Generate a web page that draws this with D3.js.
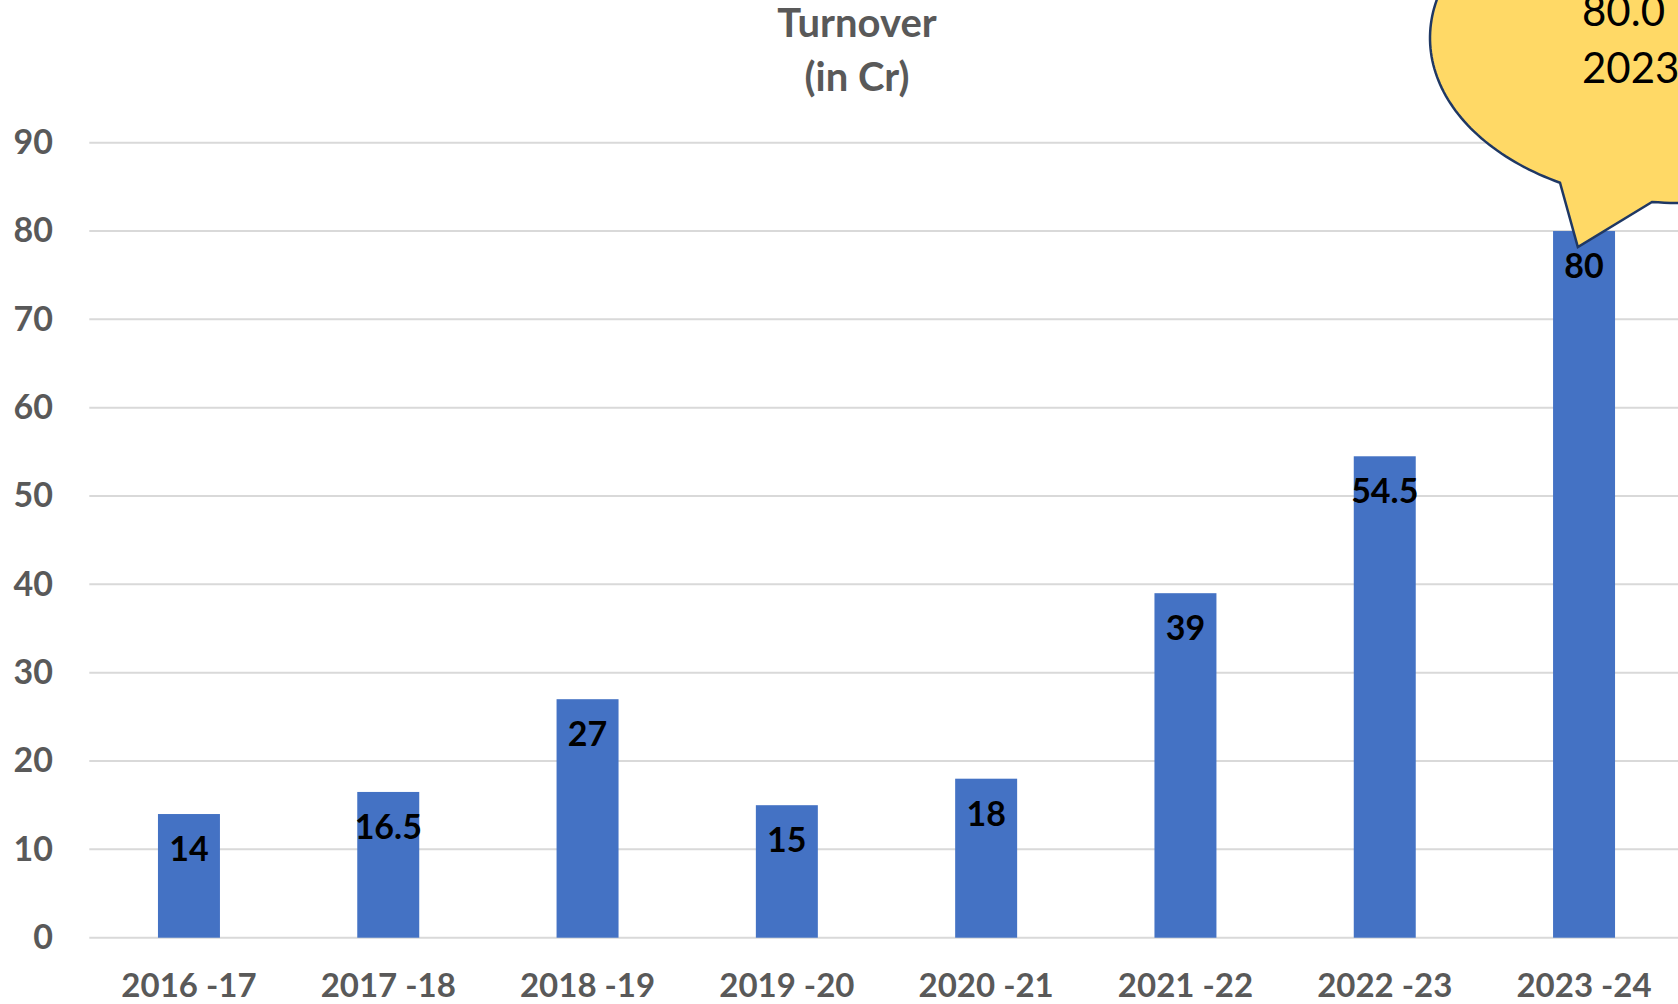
<!DOCTYPE html>
<html><head><meta charset="utf-8">
<script src="https://cdn.jsdelivr.net/npm/d3@7"></script>
<style>html,body{margin:0;padding:0;background:#fff;overflow:hidden}svg{display:block}</style>
</head><body>
<svg id="c" width="1678" height="1004"></svg>
<script>
const categories = ["2016 -17","2017 -18","2018 -19","2019 -20","2020 -21","2021 -22","2022 -23","2023 -24"];
const values = [14, 16.5, 27, 15, 18, 39, 54.5, 80];
const yTicks = [0,10,20,30,40,50,60,70,80,90];
const titleLines = ["Turnover","(in Cr)"];
const calloutLines = ["80.0","2023-24"];

const svg = d3.select("#c");
const font = "Lato, 'Open Sans', sans-serif";
const plotLeft = 89.3, plotRight = 89.3 + 8*199.3, plotTop = 142.7, plotBottom = 937.7;

const x = d3.scaleBand().domain(categories).range([plotLeft, plotRight]).paddingInner(0.689).paddingOuter(0.3445);
const y = d3.scaleLinear().domain([0, 90]).range([plotBottom, plotTop]);

// gridlines
svg.append("g").selectAll("line").data(yTicks).join("line")
  .attr("x1", plotLeft).attr("x2", plotRight)
  .attr("y1", d => y(d)).attr("y2", d => y(d))
  .attr("stroke", "#d9d9d9").attr("stroke-width", 2);

// y axis labels
const yAxis = d3.axisLeft(y).tickValues(yTicks).tickSize(0).tickPadding(0);
const yg = svg.append("g").attr("transform", "translate(53,0)").call(yAxis);
yg.select(".domain").remove();
yg.selectAll("text").attr("font-family", font).attr("font-weight", 700)
  .attr("font-size", 34).attr("fill", "#595959");

// x axis labels
const xAxis = d3.axisBottom(x).tickSize(0).tickPadding(0);
const xg = svg.append("g").attr("transform", `translate(0,${plotBottom})`).call(xAxis);
xg.select(".domain").remove();
xg.selectAll("text").attr("font-family", font).attr("font-weight", 700)
  .attr("font-size", 33).attr("fill", "#595959").attr("dy", null).attr("y", 59);

// bars
svg.append("g").selectAll("rect").data(values).join("rect")
  .attr("x", (d,i) => x(categories[i])).attr("width", x.bandwidth())
  .attr("y", d => y(d)).attr("height", d => y(0) - y(d))
  .attr("fill", "#4472c4");

// data labels
svg.append("g").selectAll("text").data(values).join("text")
  .attr("x", (d,i) => x(categories[i]) + x.bandwidth()/2)
  .attr("y", d => y(d) + 47)
  .attr("text-anchor", "middle")
  .attr("font-family", font).attr("font-weight", 700).attr("font-size", 34)
  .attr("fill", "#000").text(d => d);

// title
svg.append("text").attr("x", 857).attr("y", 37).attr("text-anchor", "middle")
  .attr("font-family", font).attr("font-weight", 700).attr("font-size", 40).attr("fill", "#595959")
  .selectAll("tspan").data(titleLines).join("tspan")
  .attr("x", 857).attr("dy", (d,i) => i ? 54 : 0).text(d => d);

// callout for last bar
const li = values.length - 1;
const tipX = x(categories[li]) + x.bandwidth()*0.4, tipY = y(values[li]) + 16;
const ecx = 1680, ecy = 38, erx = 250, ery = 165;
function ep(px){ const t = (px - ecx)/erx; return [px, ecy + ery*Math.sqrt(Math.max(0,1 - t*t))]; }
const pa = ep(1560), pb = ep(1652);
const angA = Math.atan2((pa[1]-ecy)/ery, (pa[0]-ecx)/erx);
const angB = Math.atan2((pb[1]-ecy)/ery, (pb[0]-ecx)/erx);
const pts = [];
const steps = 240;
const from = angA, to = angB + 2*Math.PI;
for (let k = 0; k <= steps; k++) {
  const t = from + (to - from)*k/steps;
  pts.push([ecx + erx*Math.cos(t), ecy + ery*Math.sin(t)]);
}
pts.push([tipX, tipY]);
svg.append("path").attr("d", d3.line()(pts) + "Z")
  .attr("fill", "#ffd966").attr("stroke", "#1f3864").attr("stroke-width", 2.5).attr("stroke-linejoin", "miter");

svg.append("text").attr("font-family", font).attr("font-size", 42).attr("fill", "#000")
  .selectAll("tspan").data(calloutLines).join("tspan")
  .attr("x", 1582).attr("y", (d,i) => 26 + i*57).text(d => d);
</script>
</body></html>
